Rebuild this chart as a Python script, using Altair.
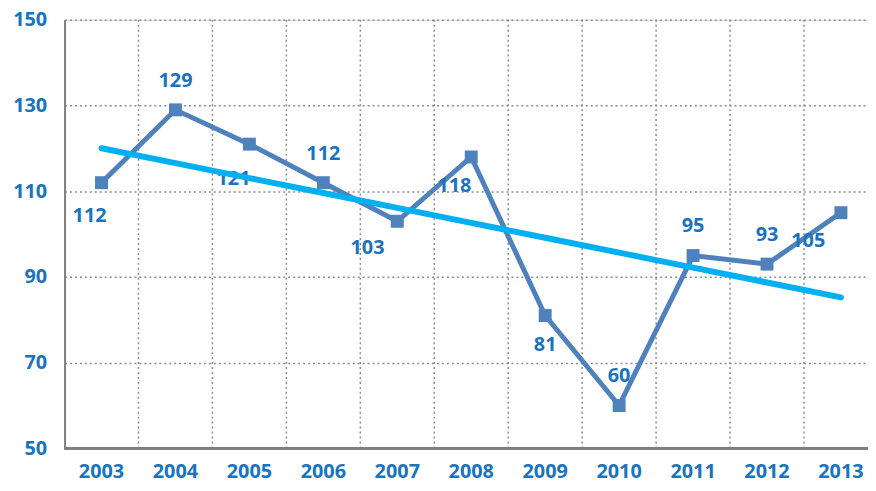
import altair as alt
import pandas as pd
import numpy as np

years = ["2003", "2004", "2005", "2006", "2007", "2008", "2009", "2010", "2011", "2012", "2013"]
values = [112, 129, 121, 112, 103, 118, 81, 60, 95, 93, 105]
y_ticks = [50, 70, 90, 110, 130, 150]

# label placement (pixel offsets from each point)
label_dx = [-12, 0, -16, 0, -30, -17, 0, 0, 0, 0, -33]
label_dy = [34, -29, 35, -29, 27, 29, 30, -30, -30, -29, 29]

idx = np.arange(len(values))
slope, intercept = np.polyfit(idx, values, 1)
trend = [intercept + slope * i for i in idx]

df = pd.DataFrame({"year": years, "value": values, "trend": trend})
grid_df = pd.DataFrame({"year": years[1:]})

BLUE_TXT = "#1a73bf"
LINE = "#4f81bd"
TREND = "#00b0f0"
FONT = "Open Sans"
W, H = 810, 432

x_scale = alt.Scale(domain=years, range=[0, 820], paddingInner=0, paddingOuter=0)
x_axis = alt.Axis(title=None, labelAngle=0, ticks=False, grid=False, domain=False,
                  bandPosition=0.5, labelAlign="center",
                  labelColor=BLUE_TXT, labelFont=FONT, labelFontSize=20,
                  labelFontWeight="bold", labelPadding=13)
x_enc = alt.X("year:N", sort=years, scale=x_scale, axis=x_axis)
y_scale = alt.Scale(domain=[50, 150], nice=False, zero=False)
y_enc = alt.Y("value:Q", scale=y_scale,
              axis=alt.Axis(title=None, values=y_ticks, ticks=False,
                            grid=True, gridColor="#8c8c8c", gridDash=[2, 3], gridWidth=1.5,
                            domainColor="#7f7f7f", domainWidth=2,
                            labelColor=BLUE_TXT, labelFont=FONT, labelFontSize=20,
                            labelFontWeight="bold", labelPadding=18))

base = alt.Chart(df)

vgrid = alt.Chart(grid_df).mark_rule(color="#8c8c8c", strokeDash=[2, 3], strokeWidth=1.5).encode(
    x=alt.X("year:N", sort=years, bandPosition=0, scale=x_scale, axis=x_axis)
)

baseline = alt.Chart(df).mark_rule(color="#7f7f7f", strokeWidth=2).encode(
    y=alt.datum(50), x=alt.value(0), x2=alt.value(W)
)

line = base.mark_line(color=LINE, strokeWidth=5).encode(x=x_enc, y=y_enc)
points = base.mark_square(color=LINE, size=170, opacity=1).encode(x=x_enc, y=y_enc)

labels = []
for i, yr in enumerate(years):
    labels.append(
        alt.Chart(df[df["year"] == yr]).mark_text(
            color=BLUE_TXT, font=FONT, fontSize=20, fontWeight="bold",
            align="center", baseline="middle", dx=label_dx[i], dy=label_dy[i]
        ).encode(x=alt.X("year:N", sort=years, scale=x_scale, axis=x_axis),
                 y=alt.Y("value:Q", scale=y_scale), text="value:Q")
    )

trend_line = base.mark_line(color=TREND, strokeWidth=6, strokeCap="round").encode(
    x=alt.X("year:N", sort=years, scale=x_scale, axis=x_axis), y=alt.Y("trend:Q", scale=y_scale)
)

chart = alt.layer(vgrid, baseline, line, points, *labels, trend_line).properties(
    width=W, height=H,
    autosize=alt.AutoSizeParams(type="none"),
    padding={"left": 57, "top": 10, "right": 0, "bottom": 40},
).configure_view(stroke=None).configure(background="white")

chart.save("out.html", embed_options={"renderer": "svg", "actions": False})
